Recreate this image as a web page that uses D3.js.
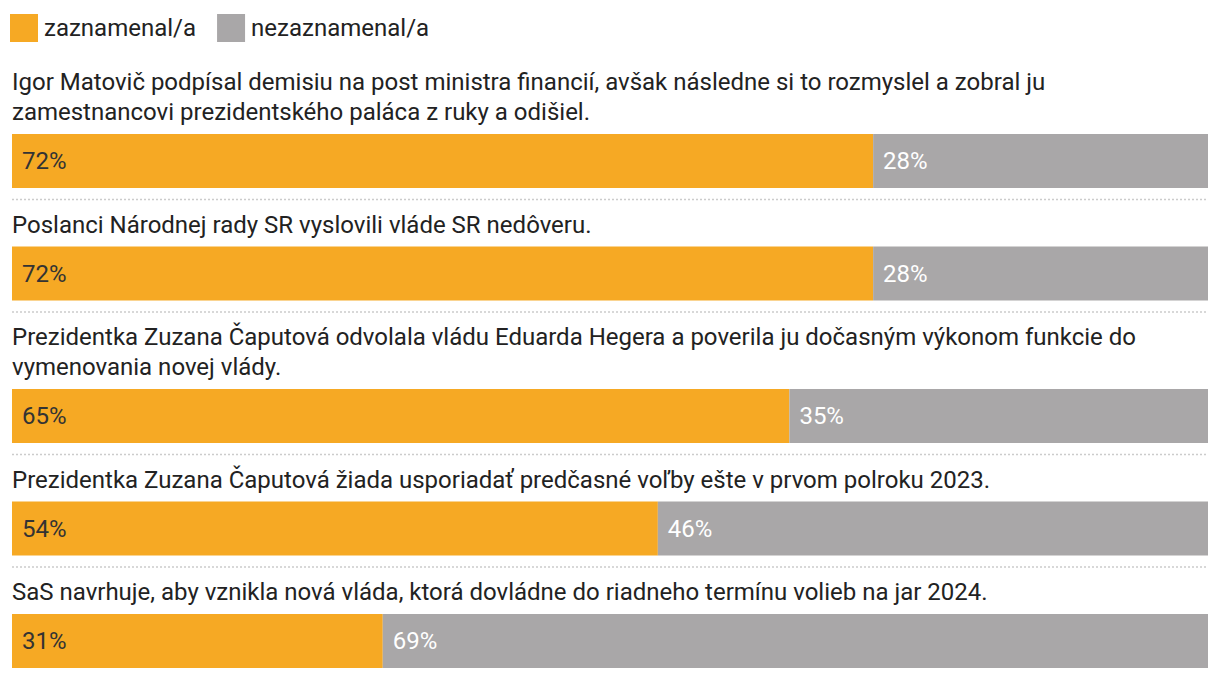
<!DOCTYPE html>
<html>
<head>
<meta charset="utf-8">
<script src="https://cdn.jsdelivr.net/npm/d3@7"></script>
<style>
  html, body { margin: 0; padding: 0; background: #fff; }
  svg { display: block; font-family: Roboto, "Noto Sans", sans-serif; }
</style>
</head>
<body>
<svg id="chart" width="1220" height="678"></svg>
<script>
const seriesNames = ["zaznamenal/a", "nezaznamenal/a"];
const seriesColors = ["#F6A924", "#A9A7A8"];
const categories = [
  "Igor Matovič podpísal demisiu na post ministra financií, avšak následne si to rozmyslel a zobral ju zamestnancovi prezidentského paláca z ruky a odišiel.",
  "Poslanci Národnej rady SR vyslovili vláde SR nedôveru.",
  "Prezidentka Zuzana Čaputová odvolala vládu Eduarda Hegera a poverila ju dočasným výkonom funkcie do vymenovania novej vlády.",
  "Prezidentka Zuzana Čaputová žiada usporiadať predčasné voľby ešte v prvom polroku 2023.",
  "SaS navrhuje, aby vznikla nová vláda, ktorá dovládne do riadneho termínu volieb na jar 2024."
];
const noticed = [72, 72, 65, 54, 31];
const notNoticed = [28, 28, 35, 46, 69];

const svg = d3.select("#chart");
const left = 12, right = 1208;
const x = d3.scaleLinear().domain([0, 100]).range([left, right]);
const color = d3.scaleOrdinal().domain(seriesNames).range(seriesColors);

// Legend
const legend = svg.append("g");
let lx = 10;
seriesNames.forEach((name, i) => {
  const g = legend.append("g").attr("transform", `translate(${lx},14)`);
  g.append("rect").attr("width", 28).attr("height", 28).attr("fill", color(name));
  const t = g.append("text").attr("x", 34).attr("y", 22).attr("font-size", 24).attr("fill", "#222").text(name);
  lx += 34 + t.node().getComputedTextLength() + 21;
});

const qFont = 24, lineH = 30, wrapW = 1190, barH = 54;
const labelFont = 24;

function wrap(textSel, str, maxW) {
  const words = str.split(" ");
  const lines = [];
  let cur = "";
  const probe = textSel.append("tspan");
  words.forEach(w => {
    const test = cur ? cur + " " + w : w;
    probe.text(test);
    if (probe.node().getComputedTextLength() > maxW && cur) {
      lines.push(cur); cur = w;
    } else cur = test;
  });
  lines.push(cur);
  probe.remove();
  return lines;
}

let y0 = 57;
categories.forEach((cat, i) => {
  const g = svg.append("g");
  const t = g.append("text").attr("font-size", qFont).attr("fill", "#222");
  const lines = wrap(t, cat, wrapW);
  lines.forEach((ln, j) => {
    t.append("tspan").attr("x", left).attr("y", y0 + 33 + j * lineH).text(ln);
  });
  const lastBase = y0 + 33 + (lines.length - 1) * lineH;
  const barTop = lastBase + 14;
  const vals = [noticed[i], notNoticed[i]];
  let acc = 0;
  vals.forEach((v, k) => {
    g.append("rect")
      .attr("x", x(acc)).attr("y", barTop)
      .attr("width", x(acc + v) - x(acc)).attr("height", barH)
      .attr("fill", color(seriesNames[k]));
    g.append("text")
      .attr("x", x(acc) + 10).attr("y", barTop + barH / 2)
      .attr("dy", "0.35em")
      .attr("font-size", labelFont)
      .attr("fill", k === 0 ? "#333" : "#fff")
      .text(v + "%");
    acc += v;
  });
  const sepY = barTop + barH + 11.5;
  if (i < categories.length - 1) {
    g.append("line").attr("x1", left).attr("x2", right)
      .attr("y1", sepY).attr("y2", sepY)
      .attr("stroke", "#ccc").attr("stroke-width", 1.5)
      .attr("stroke-dasharray", "2,2");
  }
  y0 = sepY;
});
</script>
</body>
</html>
